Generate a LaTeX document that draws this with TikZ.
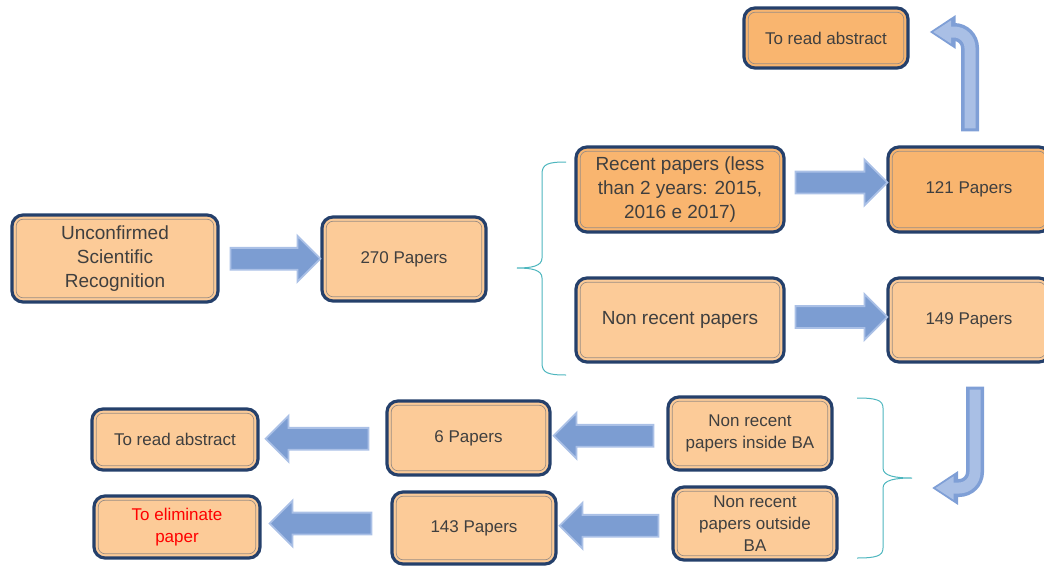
\documentclass[tikz,border=0pt]{standalone}
\usepackage{fontspec}
\setmainfont{Liberation Sans}
\usetikzlibrary{shapes.arrows,arrows.meta,calc}
\definecolor{boxL}{HTML}{FCCB98}
\definecolor{boxD}{HTML}{F9B56F}
\definecolor{navy}{HTML}{25406B}
\definecolor{innerln}{HTML}{9C8E84}
\definecolor{txt}{HTML}{3F3F3F}
\definecolor{arrF}{HTML}{7C9DD2}
\definecolor{arrO}{HTML}{AAC0E6}
\definecolor{bentOC}{HTML}{7F9FD6}
\definecolor{bentIC}{HTML}{A9BFE5}
\definecolor{brc}{HTML}{4DB6BE}
\definecolor{redtxt}{HTML}{FF0000}
\tikzset{
  box/.style={draw=navy, line width=3.2pt, rounded corners=11pt, fill=boxL, text=txt,
    align=center, inner sep=2pt, font=\fontsize{17}{22}\selectfont,
    path picture={\draw[innerln, line width=0.7pt, rounded corners=7pt]
      ([shift={(4.2pt,-4.2pt)}]path picture bounding box.north west) rectangle
      ([shift={(-4.2pt,4.2pt)}]path picture bounding box.south east);}},
  dbox/.style={box, fill=boxD},
  bigtxt/.style={font=\fontsize{19}{24}\selectfont},
  barrow/.style={single arrow, draw=arrO, fill=arrF, line width=1.8pt, inner sep=10pt,
    single arrow head extend=12pt, single arrow tip angle=90, minimum height=#1},
  larrow/.style={barrow=#1, shape border rotate=180},
  bentO/.style={draw=bentOC, line width=18pt, rounded corners=16pt,
    -{Triangle[width=32pt,length=26pt]}},
  bentI/.style={draw=bentIC, line width=11pt, rounded corners=16pt,
    shorten >=3.5pt, shorten <=3pt, -{Triangle[width=22pt,length=18pt]}},
  bracepath/.style={draw=brc, line width=1pt}
}
\begin{document}
\begin{tikzpicture}[x=1pt,y=-1pt]
\useasboundingbox (0,0) rectangle (1044,565);
% boxes
\node[box, bigtxt, minimum width=206pt, minimum height=87pt] (ucr) at (115,258.5) {Unconfirmed\\Scientific\\Recognition};
\node[box, minimum width=164pt, minimum height=84pt] (p270) at (404,259) {270 Papers};
\node[dbox, bigtxt, minimum width=208pt, minimum height=85pt] (rec) at (680,189.5) {Recent papers (less\\than 2 years: 2015,\\2016 e 2017)};
\node[dbox, minimum width=162pt, minimum height=85pt] (p121) at (969,189.5) {121 Papers};
\node[box, bigtxt, minimum width=208pt, minimum height=84pt] (nrec) at (680,320) {Non recent papers};
\node[box, minimum width=162pt, minimum height=84pt] (p149) at (969,320) {149 Papers};
\node[dbox, minimum width=164pt, minimum height=60pt] (tra1) at (826,38) {To read abstract};
\node[box, minimum width=164pt, minimum height=73pt] (inba) at (750,433.5) {Non recent\\papers inside BA};
\node[box, minimum width=164pt, minimum height=73pt] (outba) at (755,523.5) {Non recent\\papers outside\\BA};
\node[box, minimum width=163pt, minimum height=74pt] (p6) at (468.5,438) {6 Papers};
\node[box, minimum width=164pt, minimum height=72pt] (p143) at (474,528) {143 Papers};
\node[box, minimum width=166pt, minimum height=61pt] (tra2) at (175,439.5) {To read abstract};
\node[box, minimum width=166pt, minimum height=62pt, text=redtxt] (elim) at (177,527) {To eliminate\\paper};
% straight block arrows
\node[barrow=90pt] (a1) at ($(ucr.east)!0.5!(p270.west)$) {};
\node[barrow=92pt] (a2) at ([yshift=7pt]$(rec.east)!0.5!(p121.west)$) {};
\node[barrow=92pt] (a3) at ([yshift=3pt]$(nrec.east)!0.5!(p149.west)$) {};
\node[larrow=100pt] (a4) at ($(inba.west)!0.5!(p6.east)$) {};
\node[larrow=99pt] (a5) at ($(outba.west)!0.5!(p143.east)$) {};
\node[larrow=103pt] (a6) at ($(p6.west)!0.5!(tra2.east)$) {};
\node[larrow=102pt] (a7) at ([yshift=4pt]$(p143.west)!0.5!(elim.east)$) {};
% bent arrows
\coordinate (b1s) at ([xshift=1pt,yshift=14pt]p121.north);
\coordinate (b1e) at ([xshift=20pt,yshift=6pt]tra1.east);
\draw[bentO] (b1s) |- (b1e);
\draw[bentI] (b1s) |- (b1e);
\coordinate (b2s) at ([xshift=6pt,yshift=-23pt]p149.south);
\coordinate (b2e) at (932,488);
\draw[bentO] (b2s) |- (b2e);
\draw[bentI] (b2s) |- (b2e);
% braces
\draw[bracepath] (566,162) .. controls (548,162) and (542,164) .. (542,174) -- (542,258)
  .. controls (542,266) and (532,268) .. (517,268)
  .. controls (532,268) and (542,270) .. (542,278) -- (542,363)
  .. controls (542,373) and (548,375) .. (566,375);
\draw[bracepath] (857,398) .. controls (876,398) and (883,400) .. (883,408) -- (883,468)
  .. controls (883,476) and (895,478) .. (912,478)
  .. controls (895,478) and (883,480) .. (883,488) -- (883,548)
  .. controls (883,556) and (876,558) .. (857,558);
\end{tikzpicture}
\end{document}
